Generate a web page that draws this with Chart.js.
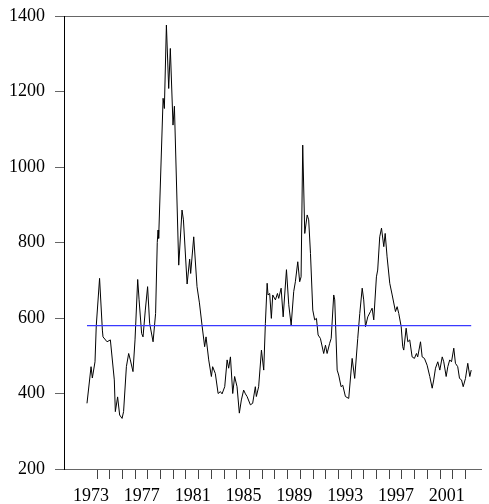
<!DOCTYPE html>
<html>
<head>
<meta charset="utf-8">
<script src="https://cdn.jsdelivr.net/npm/chart.js@4/dist/chart.umd.min.js"></script>
<style>
    body { margin: 0; background: #fff; }
    canvas { display: block; }
</style>
</head>
<body>
<canvas id="chart" width="489" height="504"></canvas>
<script>
// decimal years of the series vertices
const years = [
    1972.21, 1972.53, 1972.63, 1972.84, 1972.94, 1973.20, 1973.42, 1973.47, 1973.79, 1974.05,
    1974.36, 1974.44, 1974.62, 1974.78, 1974.97, 1975.09, 1975.31, 1975.49, 1975.62, 1975.83,
    1975.99, 1976.20, 1976.31, 1976.51, 1976.62, 1976.80, 1976.98, 1977.14, 1977.41, 1977.61,
    1977.74, 1977.80, 1977.85, 1978.20, 1978.30, 1978.46, 1978.64, 1978.77, 1978.98, 1979.09,
    1979.43, 1979.69, 1979.80, 1980.09, 1980.29, 1980.37, 1980.61, 1980.87, 1981.06, 1981.27,
    1981.47, 1981.58, 1981.79, 1982.00, 1982.10, 1982.31, 1982.53, 1982.71, 1982.84, 1983.05,
    1983.24, 1983.36, 1983.50, 1983.68, 1983.83, 1984.02, 1984.20, 1984.36, 1984.54, 1984.68,
    1984.81, 1985.07, 1985.25, 1985.46, 1985.54, 1985.72, 1985.94, 1986.12, 1986.25, 1986.39,
    1986.46, 1986.59, 1986.72, 1986.83, 1987.04, 1987.20, 1987.30, 1987.49, 1987.65, 1987.91,
    1988.09, 1988.28, 1988.48, 1988.61, 1988.80, 1988.95, 1989.06, 1989.19, 1989.35, 1989.54,
    1989.66, 1989.80, 1989.98, 1990.13, 1990.27, 1990.40, 1990.58, 1990.84, 1990.98, 1991.11,
    1991.31, 1991.43, 1991.63, 1991.71, 1991.90, 1992.02, 1992.21, 1992.34, 1992.55, 1992.81,
    1993.08, 1993.28, 1993.52, 1993.68, 1993.87, 1993.99, 1994.13, 1994.31, 1994.52, 1994.65,
    1994.78, 1994.99, 1995.09, 1995.25, 1995.39, 1995.57, 1995.68, 1995.83, 1996.04, 1996.23,
    1996.49, 1996.62, 1996.75, 1996.94, 1997.06, 1997.14, 1997.33, 1997.46, 1997.61, 1997.80,
    1997.98, 1998.14, 1998.24, 1998.46, 1998.59, 1998.77, 1998.98, 1999.19, 1999.38, 1999.50,
    1999.64, 1999.82, 1999.98, 2000.17, 2000.29, 2000.48, 2000.61, 2000.76, 2000.90, 2001.08,
    2001.21, 2001.39, 2001.53, 2001.69, 2001.82, 2002.00, 2002.18, 2002.34, 2002.45
];
const values = [
    374, 471, 441, 484, 580, 705, 568, 550, 537, 542,
    436, 352, 391, 343, 334, 352, 471, 506, 489, 458,
    542, 702, 648, 559, 550, 621, 683, 586, 537, 612,
    800, 833, 811, 1182, 1155, 1376, 1208, 1314, 1111, 1161,
    740, 886, 860, 690, 756, 718, 815, 683, 640, 579,
    524, 550, 489, 445, 471, 453, 400, 405, 399, 418,
    489, 467, 497, 400, 445, 418, 348, 383, 409, 399,
    392, 370, 374, 418, 392, 418, 515, 462, 586, 692,
    661, 665, 599, 661, 648, 665, 652, 679, 603, 728,
    635, 581, 670, 696, 749, 696, 709, 1058, 824, 873,
    860, 771, 621, 595, 599, 555, 546, 506, 528, 506,
    533, 546, 661, 648, 462, 449, 418, 422, 392, 387,
    493, 440, 546, 612, 679, 648, 577, 603, 617, 626,
    595, 709, 727, 815, 838, 789, 824, 762, 692, 661,
    617, 630, 612, 577, 524, 515, 573, 537, 542, 497,
    493, 506, 497, 537, 497, 493, 475, 445, 414, 436,
    467, 484, 462, 497, 484, 445, 471, 489, 484, 520,
    480, 471, 440, 436, 418, 440, 480, 445, 462
];
const meanValue = 580;

const yearTicks = [];
for (let y = 1973; y <= 2002; y++) yearTicks.push(y);
const labeledYears = [1973, 1977, 1981, 1985, 1989, 1993, 1997, 2001];
const valueTicks = [200, 400, 600, 800, 1000, 1200, 1400];

const series = years.map((t, i) => ({ x: t, y: values[i] }));
const meanLine = [
    { x: years[0], y: meanValue },
    { x: years[years.length - 1], y: meanValue }
];

const font = { family: "'Liberation Serif', 'DejaVu Serif', serif", size: 18 };

// top frame line runs to the right edge of the picture
const topLine = {
    id: 'topLine',
    afterDraw(chart) {
        const c = chart.ctx;
        const y = Math.round(chart.scales.y.getPixelForValue(1400)) + 0.5;
        c.save();
        c.strokeStyle = '#666';
        c.lineWidth = 1;
        c.beginPath();
        c.moveTo(chart.chartArea.right, y);
        c.lineTo(chart.width, y);
        c.stroke();
        c.restore();
    }
};

new Chart(document.getElementById('chart').getContext('2d'), {
    type: 'line',
    data: {
        datasets: [
            {
                data: meanLine,
                borderColor: '#3a3aff',
                borderWidth: 1.2,
                pointRadius: 0
            },
            {
                data: series,
                borderColor: '#000',
                borderWidth: 1,
                pointRadius: 0,
                tension: 0
            }
        ]
    },
    options: {
        responsive: false,
        animation: false,
        layout: { padding: { top: 16, right: 7, left: 0, bottom: 0 } },
        plugins: { legend: { display: false }, tooltip: { enabled: false } },
        scales: {
            x: {
                type: 'linear',
                min: 1970.4,
                max: 2003.3,
                afterBuildTicks: s => { s.ticks = yearTicks.map(v => ({ value: v })); },
                afterFit: s => { s.height = 35; s.paddingLeft = 0; s.paddingRight = 0; },
                border: { display: false },
                grid: { drawOnChartArea: false, tickLength: 10, color: '#444', tickColor: '#444' },
                ticks: {
                    autoSkip: false,
                    maxRotation: 0,
                    padding: 6,
                    labelOffset: -6,
                    color: '#000',
                    font: font,
                    callback: v => labeledYears.includes(v) ? String(v) : ''
                }
            },
            y: {
                min: 200,
                max: 1400,
                afterBuildTicks: s => { s.ticks = valueTicks.map(v => ({ value: v })); },
                afterFit: s => { s.width = 64; s.paddingTop = 0; s.paddingBottom = 0; },
                border: { display: true, color: '#000', width: 1 },
                grid: {
                    drawOnChartArea: true,
                    tickLength: 9,
                    color: c => (c.tick && (c.tick.value === 1400 || c.tick.value === 200)) ? '#666' : 'rgba(0,0,0,0)',
                    tickColor: '#666'
                },
                ticks: {
                    padding: 10,
                    color: '#000',
                    font: font,
                    callback: v => String(v)
                }
            }
        }
    },
    plugins: [topLine]
});
</script>
</body>
</html>
